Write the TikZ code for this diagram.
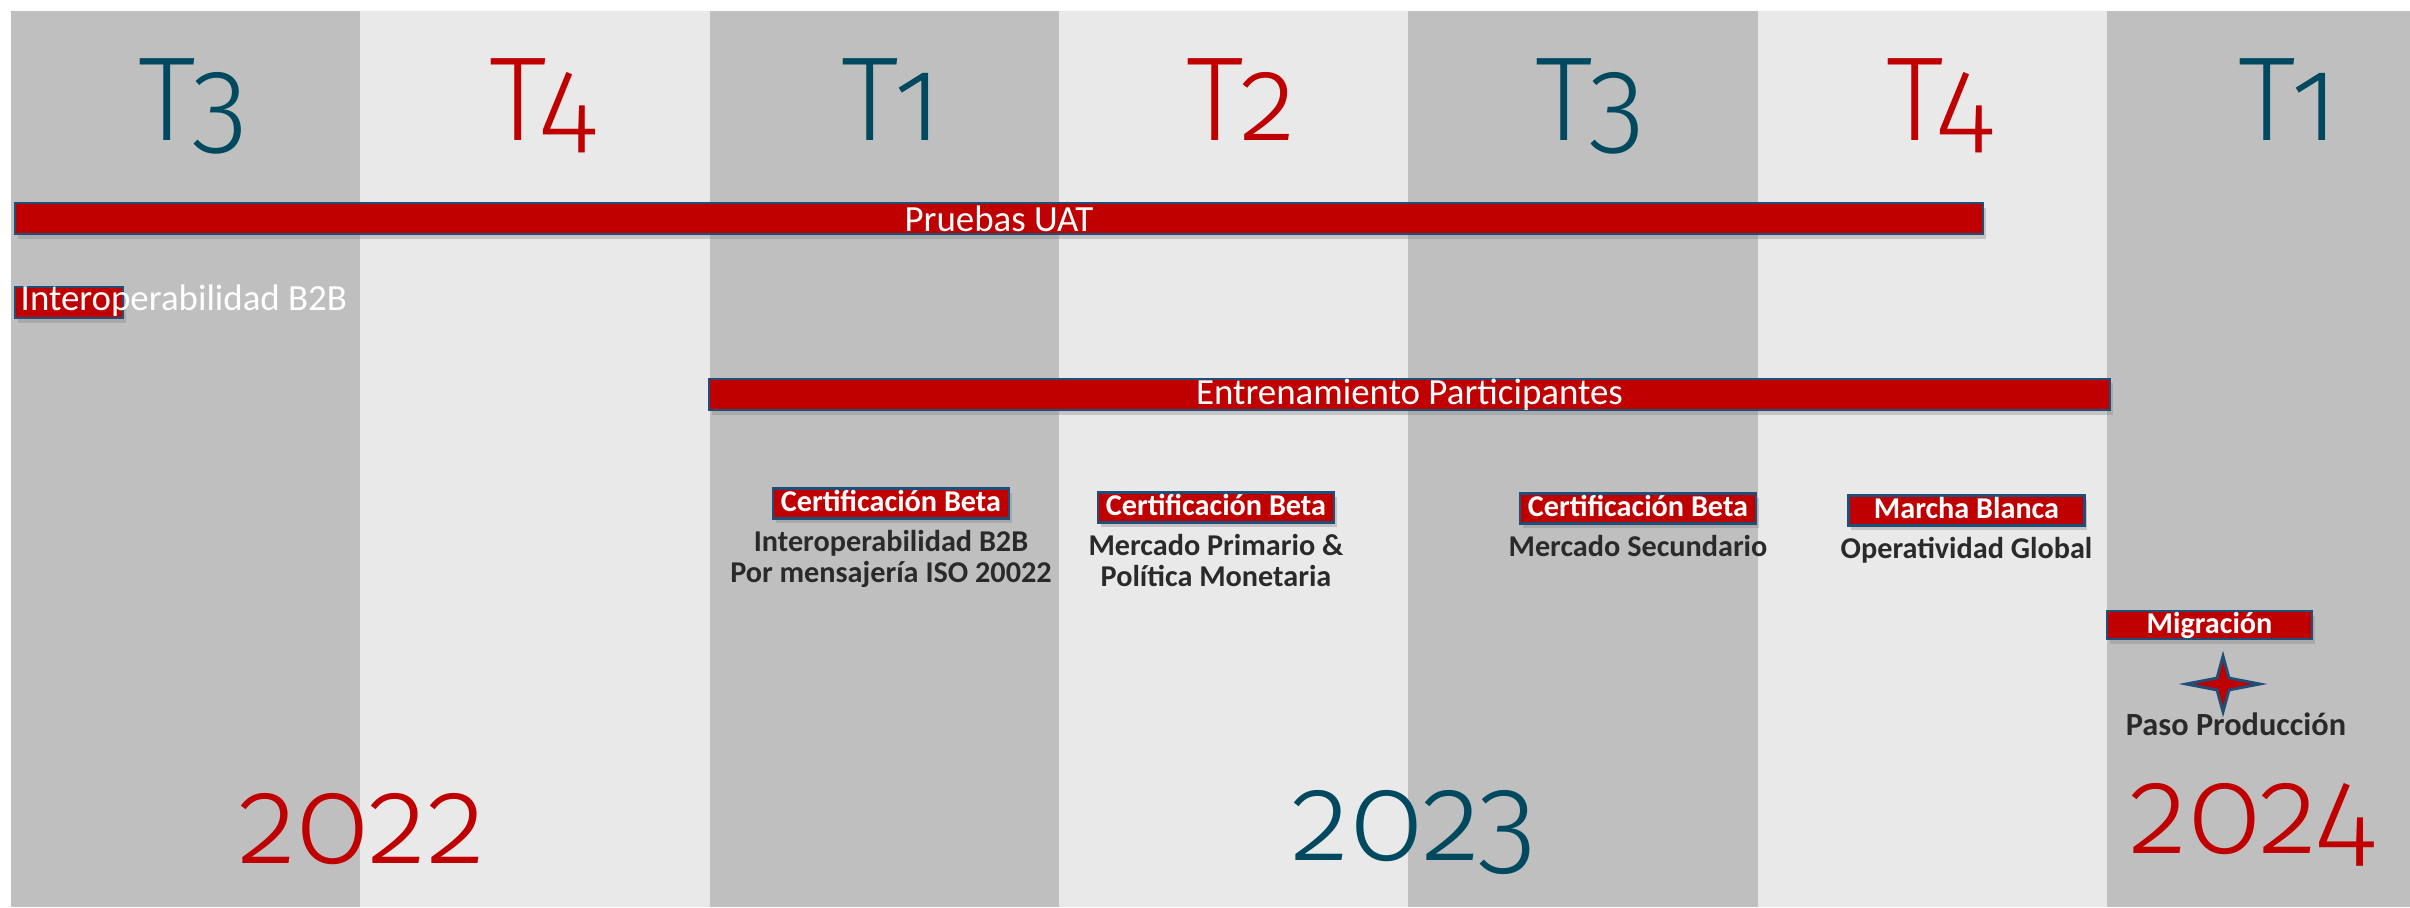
\documentclass[tikz,border=0pt]{standalone}
\usepackage{fontspec}
\setmainfont{Carlito}
\newfontfamily\quarterfont[Numbers=OldStyle]{Fira Sans Light}
\usetikzlibrary{shapes,positioning,shadows}

\definecolor{coldark}{HTML}{BFBFBF}
\definecolor{collight}{HTML}{E9E9E9}
\definecolor{qred}{HTML}{C00000}
\definecolor{qteal}{HTML}{00495E}
\definecolor{barline}{HTML}{1F4E79}
\definecolor{darktext}{HTML}{2A2A2A}

\begin{document}
\begin{tikzpicture}[x=0.1mm, y=-0.1mm, quarter/.style = {font=\quarterfont\fontsize{34}{34}\selectfont, xscale=0.97, inner sep=0, anchor=base}, year/.style = {font=\quarterfont\fontsize{35}{35}\selectfont, xscale=0.99, inner sep=0, anchor=base}, bar/.style = {draw=barline, line width=0.6pt, fill=qred, drop shadow={shadow xshift=0.25mm, shadow yshift=-0.45mm, opacity=0.35}, inner sep=0, text=white, font=\fontsize{10.5}{10.5}\selectfont}, tag/.style = {bar, font=\bfseries\fontsize{8.6}{8.6}\selectfont, minimum width=23.6mm, minimum height=3mm, text height=1.7mm, text depth=0.1mm}, desc/.style = {text=darktext, font=\bfseries\fontsize{8.6}{8.9}\selectfont, align=center, inner sep=0}, node distance = 1mm]
			\useasboundingbox (0,0) rectangle (2410,907);
			\fill[white] (0,0) rectangle (2410,907);
			% quarters
			\foreach \i/\q/\qc/\fc in {0/T3/qteal/coldark, 1/T4/qred/collight, 2/T1/qteal/coldark, 3/T2/qred/collight, 4/T3/qteal/coldark, 5/T4/qred/collight, 6/T1/qteal/coldark}{
				\fill[\fc] (11+349.3*\i,11) rectangle ++(349.3,896);
				\node[quarter, text=\qc] (q\i) at (11+349.3*\i+182,140) {\q};
			}
			% years
			\node[year, text=qred] (y2022) at (362,863) {2022};
			\node[year, text=qteal] (y2023) at (1414,860) {2023};
			\node[year, text=qred] (y2024) at (2252,853) {2024};
			% bars
			\node[bar, minimum width=196.8mm, minimum height=3.1mm] (uat) at (999,218.5) {Pruebas UAT};
			\node[bar, minimum width=10.8mm, minimum height=3.1mm] (interop) at (69,302.5) {};
			\node[anchor=base west, inner sep=0, text=white, font=\fontsize{10.5}{10.5}\selectfont] (interoptxt) at (20,310) {Interoperabilidad B2B};
			\node[bar, minimum width=140.1mm, minimum height=3.1mm] (training) at (1409.5,394.5) {Entrenamiento Participantes};
			% milestones
			\node[tag] (cert1) at (891,503.5) {Certificación Beta};
			\node[tag] (cert2) at (1216,507.5) {Certificación Beta};
			\node[tag] (cert3) at (1638,508.5) {Certificación Beta};
			\node[tag] (marcha) at (1966.5,510.5) {Marcha Blanca};
			\node[tag, minimum width=20.5mm, minimum height=2.8mm] (migra) at (2209.5,625) {Migración};
			\node[desc, below=of cert1] (cert1txt) {Interoperabilidad B2B\\Por mensajería ISO 20022};
			\node[desc, below=of cert2] (cert2txt) {Mercado Primario \&\\Política Monetaria};
			\node[desc, below=of cert3] (cert3txt) {Mercado Secundario};
			\node[desc, below=of marcha] (marchatxt) {Operatividad Global};
			% go live
			\begin{scope}[shift={(2223,684)}]
				\draw[draw=barline, line width=0.8pt, fill=qred, line join=miter] (-37,0) -- (-6,-6) -- (0,-28) -- (6,-6) -- (37,0) -- (6,6) -- (0,28) -- (-6,6) -- cycle;
			\end{scope}
			\node[desc, anchor=base, font=\bfseries\fontsize{9.2}{9.2}\selectfont] (paso) at (2236,735) {Paso Producción};
\end{tikzpicture}
\end{document}
